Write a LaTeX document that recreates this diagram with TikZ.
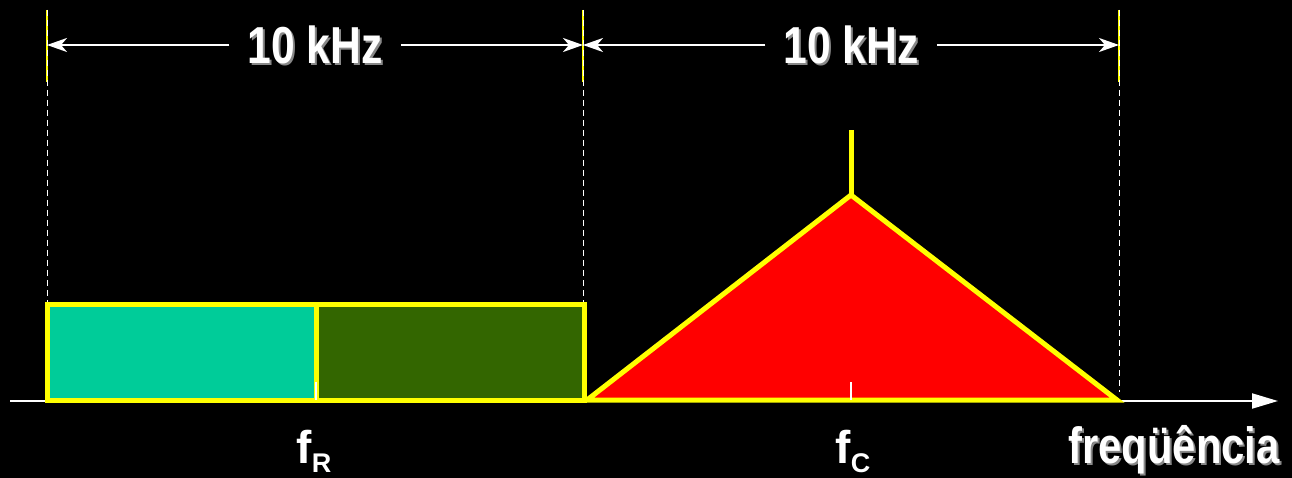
\documentclass[tikz,border=0pt]{standalone}
\usepackage{fontspec}
\setmainfont{Liberation Sans}
\newfontfamily\condfont[FakeStretch=0.82]{Liberation Sans}
\usetikzlibrary{arrows.meta}
\definecolor{teal0}{HTML}{00CC99}
\definecolor{dgreen}{HTML}{336600}
\definecolor{yel}{HTML}{FFFF00}
\definecolor{shade}{HTML}{888888}
\begin{document}
\begin{tikzpicture}[x=1pt,y=-1pt,
  dimline/.style={white, line width=2pt, -{Stealth[length=20pt,width=14pt,inset=6pt]}},
  guide/.style={white, line width=1pt, dash pattern=on 6pt off 4pt},
  ytick/.style={yel, line width=2.5pt},
  band/.style={draw=yel, line width=5pt},
  wtick/.style={white, line width=2pt},
  lbl/.style={text=white, font=\condfont\bfseries\fontsize{52}{60}\selectfont, inner xsep=18pt, inner ysep=0pt},
  lblsh/.style={lbl, text=shade},
  axlbl/.style={text=white, font=\condfont\bfseries\fontsize{51}{60}\selectfont, inner sep=0pt, anchor=base},
  axlblsh/.style={axlbl, text=shade},
  flbl/.style={text=white, font=\bfseries\fontsize{46}{50}\selectfont, inner sep=0pt, anchor=base}
]
\useasboundingbox[fill=black] (0,0) rectangle (1292,478);
% guide coordinates
\coordinate (G0t) at (47,10);  \coordinate (G0m) at (47,82);  \coordinate (G0b) at (47,304);
\coordinate (G1t) at (583,10); \coordinate (G1m) at (583,82); \coordinate (G1b) at (583,304);
\coordinate (G2t) at (1119,10);\coordinate (G2m) at (1119,82);\coordinate (G2b) at (1119,392);
\coordinate (L0) at (47,45); \coordinate (L1) at (583,45); \coordinate (L2) at (1119,45);
% yellow top ticks and dashed guides
\draw[ytick] (G0t) -- (G0m);
\draw[ytick] (G1t) -- (G1m);
\draw[ytick] (G2t) -- (G2m);
\draw[guide] (G0t) -- (G0b);
\draw[guide] (G1t) -- (G1b);
\draw[guide] (G2t) -- (G2b);
% axis
\coordinate (A0) at (10,401); \coordinate (A1) at (1278,401);
\draw[white, line width=2pt, -{Triangle[length=26pt,width=15pt]}] (A0) -- (A1);
% bands
\fill[teal0] (47,304) rectangle (316,400);
\fill[dgreen] (316,304) rectangle (584,400);
\draw[band] (47,304) rectangle (584,400);
\draw[yel, line width=5pt] (316,304) -- (316,400);
% carrier triangle
\coordinate (T0) at (587,400); \coordinate (T1) at (851,195); \coordinate (T2) at (1117,400);
\coordinate (S) at (851,130);
\filldraw[fill=red, draw=yel, line width=5pt, line join=miter] (T0) -- (T1) -- (T2) -- cycle;
\draw[yel, line width=5pt] (T1) -- (S);
% small white ticks
\draw[wtick] (316,382) -- (316,400);
\draw[wtick] (851,382) -- (851,400);
% dimension labels
\node[lblsh] (k1s) at (317,47) {10 kHz};
\node[lbl] (k1) at (315,45) {10 kHz};
\node[lblsh] (k2s) at (853,47) {10 kHz};
\node[lbl] (k2) at (851,45) {10 kHz};
\draw[dimline] (k1) -- (L0);
\draw[dimline] (k1) -- (L1);
\draw[dimline] (k2) -- (L1);
\draw[dimline] (k2) -- (L2);
% axis labels
\node[axlblsh] (frs) at (1176,465) {freqüência};
\node[axlbl] (fr) at (1174,463) {freqüência};
\node[flbl] (fR) at (314,463) {f\raisebox{-9pt}{\fontsize{27}{30}\selectfont R}};
\node[flbl] (fC) at (853,463) {f\raisebox{-9pt}{\fontsize{27}{30}\selectfont C}};
\end{tikzpicture}
\end{document}
